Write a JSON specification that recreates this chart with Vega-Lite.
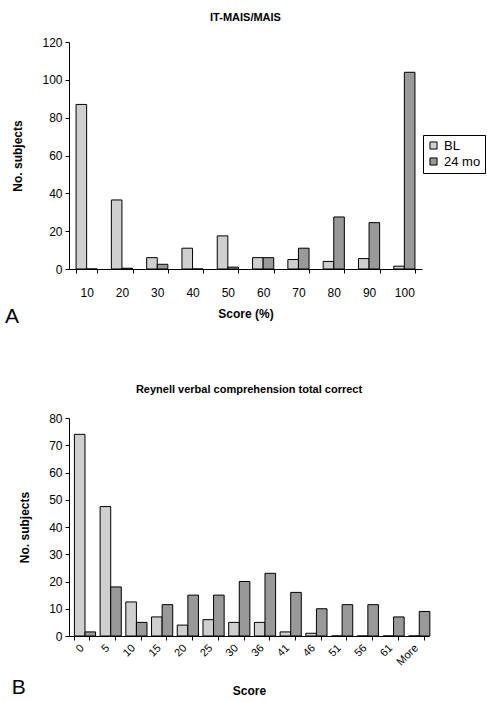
{
  "$schema": "https://vega.github.io/schema/vega-lite/v6.json",
  "background": "white",
  "padding": {"left": 4, "top": 12, "right": 5, "bottom": 5},
  "config": {
    "font": "Liberation Sans",
    "view": {"stroke": null},
    "axis": {
      "labelFont": "Liberation Sans", "labelFontSize": 12, "labelColor": "#000",
      "titleFont": "Liberation Sans", "titleFontSize": 12, "titleFontWeight": "bold", "titleColor": "#000",
      "domainColor": "#000", "tickColor": "#000", "grid": false, "tickSize": 4, "labelPadding": 3
    },
    "legend": {
      "orient": "none", "title": null, "strokeColor": "#000", "fillColor": "#fff", "padding": 4,
      "symbolType": "square", "symbolSize": 50, "symbolStrokeColor": "#000", "symbolStrokeWidth": 1,
      "symbolOpacity": 1, "labelFont": "Liberation Sans", "labelFontSize": 13, "labelColor": "#000",
      "rowPadding": 2, "cornerRadius": 0
    },
    "concat": {"spacing": 57}
  },
  "datasets": {
    "a": [
      {"score": "10", "period": "BL", "n": 87}, {"score": "10", "period": "24 mo", "n": 0},
      {"score": "20", "period": "BL", "n": 36.5}, {"score": "20", "period": "24 mo", "n": 0.4},
      {"score": "30", "period": "BL", "n": 6}, {"score": "30", "period": "24 mo", "n": 2.5},
      {"score": "40", "period": "BL", "n": 11}, {"score": "40", "period": "24 mo", "n": 0},
      {"score": "50", "period": "BL", "n": 17.5}, {"score": "50", "period": "24 mo", "n": 1},
      {"score": "60", "period": "BL", "n": 6}, {"score": "60", "period": "24 mo", "n": 6},
      {"score": "70", "period": "BL", "n": 5}, {"score": "70", "period": "24 mo", "n": 11},
      {"score": "80", "period": "BL", "n": 4}, {"score": "80", "period": "24 mo", "n": 27.5},
      {"score": "90", "period": "BL", "n": 5.5}, {"score": "90", "period": "24 mo", "n": 24.5},
      {"score": "100", "period": "BL", "n": 1.5}, {"score": "100", "period": "24 mo", "n": 104}
    ],
    "b": [
      {"score": "0", "period": "BL", "n": 74}, {"score": "0", "period": "24 mo", "n": 1.5},
      {"score": "5", "period": "BL", "n": 47.5}, {"score": "5", "period": "24 mo", "n": 18},
      {"score": "10", "period": "BL", "n": 12.5}, {"score": "10", "period": "24 mo", "n": 5},
      {"score": "15", "period": "BL", "n": 7}, {"score": "15", "period": "24 mo", "n": 11.5},
      {"score": "20", "period": "BL", "n": 4}, {"score": "20", "period": "24 mo", "n": 15},
      {"score": "25", "period": "BL", "n": 6}, {"score": "25", "period": "24 mo", "n": 15},
      {"score": "30", "period": "BL", "n": 5}, {"score": "30", "period": "24 mo", "n": 20},
      {"score": "36", "period": "BL", "n": 5}, {"score": "36", "period": "24 mo", "n": 23},
      {"score": "41", "period": "BL", "n": 1.5}, {"score": "41", "period": "24 mo", "n": 16},
      {"score": "46", "period": "BL", "n": 1}, {"score": "46", "period": "24 mo", "n": 10},
      {"score": "51", "period": "BL", "n": 0}, {"score": "51", "period": "24 mo", "n": 11.5},
      {"score": "56", "period": "BL", "n": 0}, {"score": "56", "period": "24 mo", "n": 11.5},
      {"score": "61", "period": "BL", "n": 0}, {"score": "61", "period": "24 mo", "n": 7},
      {"score": "More", "period": "BL", "n": 0}, {"score": "More", "period": "24 mo", "n": 9}
    ]
  },
  "vconcat": [
    {
      "title": {"text": "A", "orient": "bottom", "anchor": "start", "fontSize": 21, "fontWeight": "normal", "font": "Liberation Sans", "color": "#000", "offset": -13, "dx": -7},
      "vconcat": [
        {
          "title": {"text": "IT-MAIS/MAIS", "fontSize": 11, "fontWeight": "bold", "font": "Liberation Sans", "color": "#000", "offset": 13},
          "width": 353, "height": 227,
          "data": {"name": "a"},
          "mark": {"type": "bar", "stroke": "#000", "strokeWidth": 1},
          "encoding": {
            "x": {"field": "score", "type": "ordinal", "sort": null,
              "scale": {"paddingInner": 0.4, "paddingOuter": 0.2},
              "axis": {"title": "Score (%)", "labelAngle": 0, "tickBand": "extent", "labelPadding": 14, "titlePadding": 10}},
            "xOffset": {"field": "period", "type": "nominal", "sort": ["BL", "24 mo"]},
            "y": {"field": "n", "type": "quantitative", "scale": {"domain": [0, 120]},
              "axis": {"values": [0, 20, 40, 60, 80, 100, 120], "title": "No. subjects", "titlePadding": 17}},
            "color": {"field": "period", "type": "nominal", "sort": ["BL", "24 mo"],
              "scale": {"domain": ["BL", "24 mo"], "range": ["#cfcfcf", "#999999"]},
              "legend": {"legendX": 354, "legendY": 93}}
          }
        }
      ]
    },
    {
      "title": {"text": "B", "orient": "bottom", "anchor": "start", "fontSize": 21, "fontWeight": "normal", "font": "Liberation Sans", "color": "#000", "offset": -19, "dx": -7},
      "vconcat": [
        {
          "title": {"text": "Reynell verbal comprehension total correct", "fontSize": 11, "fontWeight": "bold", "font": "Liberation Sans", "color": "#000", "offset": 17},
          "width": 360, "height": 218,
          "data": {"name": "b"},
          "mark": {"type": "bar", "stroke": "#000", "strokeWidth": 1},
          "encoding": {
            "x": {"field": "score", "type": "ordinal", "sort": null,
              "scale": {"paddingInner": 0.42, "paddingOuter": 0.21},
              "axis": {"title": "Score", "labelAngle": -45, "labelAlign": "right", "labelBaseline": "middle", "tickBand": "extent", "labelPadding": 6, "titlePadding": 18, "labelFontSize": 11}},
            "xOffset": {"field": "period", "type": "nominal", "sort": ["BL", "24 mo"]},
            "y": {"field": "n", "type": "quantitative", "scale": {"domain": [0, 80]},
              "axis": {"values": [0, 10, 20, 30, 40, 50, 60, 70, 80], "title": "No. subjects", "titlePadding": 17}},
            "color": {"field": "period", "type": "nominal", "sort": ["BL", "24 mo"],
              "scale": {"domain": ["BL", "24 mo"], "range": ["#cfcfcf", "#999999"]},
              "legend": {"legendX": 354, "legendY": 87}}
          }
        }
      ]
    }
  ]
}
